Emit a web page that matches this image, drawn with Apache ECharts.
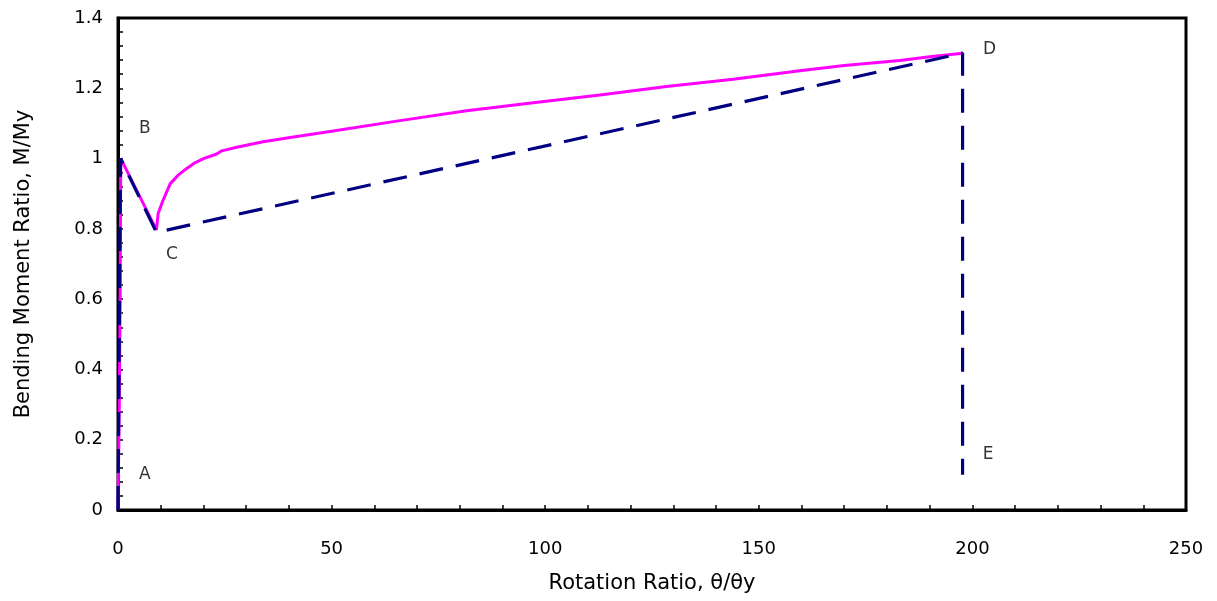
<!DOCTYPE html>
<html><head><meta charset="utf-8">
<script src="https://cdn.jsdelivr.net/npm/echarts@6/dist/echarts.min.js"></script>
<style>html,body{margin:0;padding:0;background:#fff}#c{width:1217px;height:601px}</style>
</head><body><div id="c"></div>
<script>
// Measured curve (pink)
const measured = [[0,0],[0.3,0.3],[0.5,0.6],[0.6,0.9],[0.65,1.0],[9.0,0.797],[9.4,0.844],[10.5,0.88],[12.2,0.928],[14,0.952],[16.1,0.972],[18,0.988],[20,1.0],[23.1,1.013],[24.3,1.022],[27.8,1.032],[34,1.048],[40.3,1.06],[50,1.078],[66,1.108],[81.6,1.136],[97.2,1.159],[112.8,1.181],[128.4,1.205],[144,1.226],[159.6,1.25],[170,1.265],[183,1.279],[190,1.29],[197.7,1.30]];
// Idealized model (navy dashed) A-B-C-D-E
const model = [[0,0],[0.6,1.0],[9,0.79],[197.7,1.30],[197.7,0.1]];
// Point labels
const pointNames = ['A','B','C','D','E'];
const pointPos = [[6.3,0.10],[6.3,1.084],[12.6,0.726],[204,1.309],[203.7,0.157]];
const xTitle = 'Rotation Ratio, θ/θy';
const yTitle = 'Bending Moment Ratio, M/My';
const FONT = 'DejaVu Sans';

const chart = echarts.init(document.getElementById('c'));
chart.setOption({
  animation:false,
  backgroundColor:'#fff',
  grid:{left:118,right:31,top:18,bottom:91,show:true,borderColor:'#000',borderWidth:3,backgroundColor:'#fff',
    containLabel:false,outerBoundsMode:'none'},
  xAxis:{type:'value',min:0,max:250,interval:50,
    name:xTitle,nameLocation:'middle',nameGap:63,
    nameTextStyle:{fontFamily:FONT,fontSize:21,color:'#000'},
    axisLine:{show:true,lineStyle:{color:'#000',width:3}},
    axisTick:{show:true,inside:true,length:5,lineStyle:{color:'#000',width:1.5}},
    minorTick:{show:true,splitNumber:5,length:5,lineStyle:{color:'#000',width:1.5}},
    splitLine:{show:false},
    axisLabel:{fontFamily:FONT,fontSize:18,color:'#000',margin:30}},
  yAxis:{type:'value',min:0,max:1.4,interval:0.2,
    name:yTitle,nameLocation:'middle',nameGap:84,
    nameTextStyle:{fontFamily:FONT,fontSize:21,color:'#000'},
    axisLine:{show:true,lineStyle:{color:'#000',width:3}},
    axisTick:{show:true,inside:true,length:5,lineStyle:{color:'#000',width:1.5}},
    minorTick:{show:true,splitNumber:5,length:5,lineStyle:{color:'#000',width:1.5}},
    splitLine:{show:false},
    axisLabel:{fontFamily:FONT,fontSize:18,color:'#000',margin:15}},
  series:[
    {type:'line',data:measured,showSymbol:false,symbol:'none',
      lineStyle:{color:'#FF00FF',width:3},z:2},
    {type:'line',data:model,showSymbol:false,symbol:'none',
      lineStyle:{color:'#000080',width:3.2,type:[24,13]},z:3},
    {type:'scatter',data:pointPos.map((p,i)=>({value:p,name:pointNames[i]})),
      symbolSize:0,z:4,
      label:{show:true,position:'inside',formatter:p=>p.name,
        fontFamily:FONT,fontSize:17,color:'#000'}}
  ]
});
</script></body></html>
